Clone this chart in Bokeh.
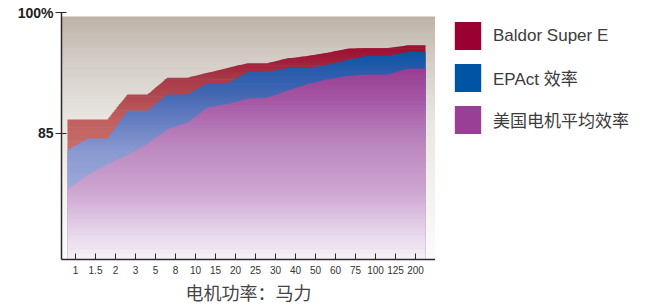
import numpy as np
from bokeh.plotting import figure
from bokeh.layouts import row
from bokeh.models import FixedTicker, Legend, LegendItem, Range1d
from bokeh.embed import file_html
from bokeh.resources import INLINE

# ---------------- data ----------------
hp_labels = ["1", "1.5", "2", "3", "5", "8", "10", "15", "20", "25", "30",
             "40", "50", "60", "75", "100", "125", "200"]
baldor_super_e = [86.7, 86.7, 86.7, 89.8, 89.8, 91.9, 91.9, 92.5, 93.1, 93.7,
                  93.7, 94.3, 94.6, 95.0, 95.5, 95.6, 95.6, 95.9]
epact = [82.9, 84.3, 84.3, 87.8, 87.8, 89.8, 89.8, 91.2, 91.2, 92.6, 92.6,
         93.1, 93.1, 93.5, 94.1, 94.6, 94.6, 95.1]
us_average = [78.0, 79.8, 81.1, 82.3, 83.7, 85.5, 86.3, 88.2, 88.6, 89.3, 89.4,
              90.3, 91.1, 91.7, 92.1, 92.3, 92.3, 93.0]
y_ticks = [85, 100]
y_tick_labels = ["85", "100%"]
series_names = ["Baldor Super E", "EPAct 效率", "美国电机平均效率"]
legend_colors = ["#9b0032", "#0054a4", "#993f96"]
x_title = "电机功率：马力"

# ---------------- styling ----------------
Y0, Y1 = 69.3, 100.0
X0, X1 = -0.7, 18.0
LATIN = "'Liberation Sans', 'Noto Sans CJK SC'"

bg_stops = [(69.3, "#fcfbfb"), (77.1, "#f5f3f1"), (86.8, "#e9e5e0"),
            (94.1, "#d4cdc6"), (99.5, "#bdb3a8")]
red_stops = [(78.0, "#c97674"), (83.0, "#c76e6c"), (86.7, "#c0605f"),
             (89.8, "#b0474f"), (91.9, "#a83a47"), (94.0, "#a01f3b"), (96.5, "#980a30")]
blue_stops = [(78.0, "#9cabdb"), (82.9, "#8899d1"), (84.3, "#7b8ecb"),
              (87.8, "#5a76bd"), (89.8, "#4468b4"), (92.6, "#2a5dac"), (95.5, "#0553a4")]
purple_stops = [(69.3, "#f7f2f8"), (73.4, "#e3cfe7"), (78.0, "#cda4d0"),
                (82.0, "#c190c5"), (85.6, "#b478b7"), (89.4, "#a455a3"), (93.5, "#973b91")]


def grad_color(stops, v):
    vs = [s[0] for s in stops]
    cs = np.array([[int(s[1][i:i + 2], 16) for i in (1, 3, 5)] for s in stops], float)
    rgb = [int(round(np.interp(v, vs, cs[:, j]))) for j in range(3)]
    return "#%02x%02x%02x" % tuple(rgb)


p = figure(width=435, height=306, x_range=Range1d(X0, X1), y_range=Range1d(Y0, Y1),
           output_backend="svg", toolbar_location=None,
           min_border_left=61, min_border_right=0, min_border_top=12, min_border_bottom=42)
p.xgrid.visible = False
p.ygrid.visible = False
p.outline_line_color = None
p.background_fill_color = "white"
p.border_fill_color = "white"

# background gradient
dv = 0.35
OV = 0.07
edges = np.arange(Y0, 99.5 + 1e-9, dv)
if edges[-1] < 99.5:
    edges = np.append(edges, 99.5)
bl, br, bb, bt, bc = [], [], [], [], []
for b0, b1 in zip(edges[:-1], edges[1:]):
    bl.append(X0 - 1)
    br.append(X1 + 1)
    bb.append(b0 - (OV if b0 > Y0 else 1))
    bt.append(b1)
    bc.append(grad_color(bg_stops, (b0 + b1) / 2))
p.quad(left=bl, right=br, bottom=bb, top=bt, fill_color=bc, line_color=None)

# area x positions (points sit a little left of each category tick)
xk = np.append(np.arange(len(hp_labels)) - 0.4, len(hp_labels) - 0.5)
xs = np.round(np.linspace(xk[0], xk[-1], int(round((xk[-1] - xk[0]) / 0.1)) + 1), 4)


def draw_gradient_area(vals, stops):
    tops = np.interp(xs, xk, np.append(vals, vals[-1]))
    tmax, tmin = tops.max(), tops.min()
    e = np.arange(Y0, tmax + dv, dv)
    for b0, b1 in zip(e[:-1], e[1:]):
        if b0 >= tmax:
            break
        col = grad_color(stops, (b0 + b1) / 2)
        lo = b0 - OV if b0 > Y0 else Y0 - 1
        if tmin >= b1:
            p.varea(x=[xs[0], xs[-1]], y1=[lo, lo], y2=[b1, b1], fill_color=col)
        else:
            hi = np.clip(tops, lo, b1)
            p.varea(x=xs, y1=np.full_like(xs, lo), y2=hi, fill_color=col)


draw_gradient_area(np.array(baldor_super_e), red_stops)
draw_gradient_area(np.array(epact), blue_stops)
draw_gradient_area(np.array(us_average), purple_stops)

# x axis
xa = p.xaxis[0]
xa.ticker = FixedTicker(ticks=list(range(len(hp_labels) + 1)))
xa.major_label_overrides = {**{i: lab for i, lab in enumerate(hp_labels)}, len(hp_labels): ""}
xa.major_tick_in = 6
xa.major_tick_out = 0
xa.minor_tick_line_color = None
xa.axis_line_color = "#2a2a2a"
xa.axis_line_width = 1.5
xa.major_tick_line_color = "#2a2a2a"
xa.major_label_text_font_size = "10px"
xa.major_label_text_color = "#333333"
xa.major_label_text_font = LATIN
xa.major_label_standoff = 6
xa.axis_label = x_title
xa.axis_label_text_font_size = "18px"
xa.axis_label_text_font_style = "normal"
xa.axis_label_text_color = "#444444"
xa.axis_label_text_font = LATIN
xa.axis_label_standoff = 7

# y axis
ya = p.yaxis[0]
ya.ticker = FixedTicker(ticks=y_ticks)
ya.major_label_overrides = {t: lab for t, lab in zip(y_ticks, y_tick_labels)}
ya.major_tick_in = 5
ya.major_tick_out = 6
ya.minor_tick_line_color = None
ya.axis_line_color = "#2a2a2a"
ya.axis_line_width = 1.5
ya.major_tick_line_color = "#2a2a2a"
ya.major_label_text_font_size = "14px"
ya.major_label_text_font_style = "bold"
ya.major_label_text_color = "#222222"
ya.major_label_text_font = LATIN
ya.major_label_standoff = 2

# legend figure on the right
lp = figure(width=211, height=306, x_range=Range1d(0, 1), y_range=Range1d(0, 1),
            output_backend="svg", toolbar_location=None,
            x_axis_location=None, y_axis_location=None, min_border=0)
lp.xgrid.visible = False
lp.ygrid.visible = False
lp.outline_line_color = None
lp.background_fill_color = "white"
lp.border_fill_color = "white"
dummies = [lp.quad(left=[np.nan], right=[np.nan], top=[np.nan], bottom=[np.nan],
                   fill_color=c, line_color=None)
           for c in legend_colors]
legend = Legend(items=[LegendItem(label=n, renderers=[r]) for n, r in zip(series_names, dummies)],
                location=(16, 122), orientation="vertical",
                glyph_width=33, glyph_height=35, spacing=7, padding=0, margin=0,
                label_standoff=9, label_height=35,
                label_text_font_size="17px", label_text_color="#3c3c3c",
                label_text_font=LATIN,
                border_line_color=None, background_fill_alpha=0)
lp.add_layout(legend)

layout = row(p, lp, spacing=0)
open("out.html", "w").write(file_html(layout, INLINE))
